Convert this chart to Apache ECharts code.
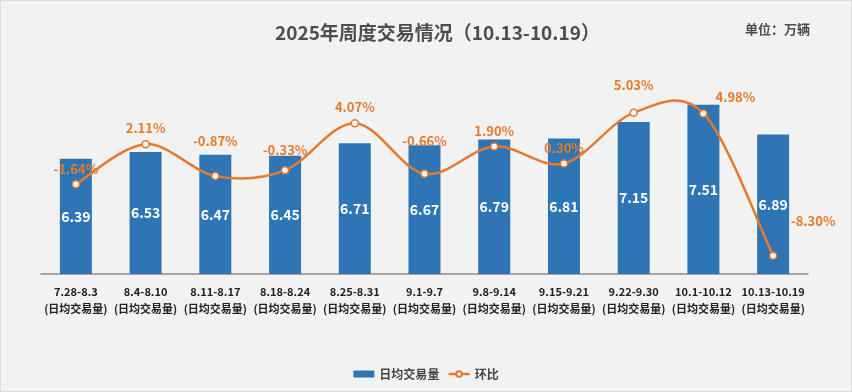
<!DOCTYPE html>
<html>
<head>
<meta charset="utf-8">
<script src="https://cdn.jsdelivr.net/npm/echarts@6/dist/echarts.min.js"></script>
<style>
html,body{margin:0;padding:0;background:#f2f2f2;}
#c{width:850px;height:390px;border:1px solid #dcdcdc;background:#f2f2f2;}
</style>
</head>
<body>
<div id="c"></div>
<script>
const categories = ['7.28-8.3','8.4-8.10','8.11-8.17','8.18-8.24','8.25-8.31','9.1-9.7','9.8-9.14','9.15-9.21','9.22-9.30','10.1-10.12','10.13-10.19'];
const dailyVolume = [6.39,6.53,6.47,6.45,6.71,6.67,6.79,6.81,7.15,7.51,6.89];
const momChange = [-1.64,2.11,-0.87,-0.33,4.07,-0.66,1.90,0.30,5.03,4.98,-8.30];
const subLabel = '(日均交易量)';

const FONT = '"Noto Sans CJK SC", "Noto Sans", sans-serif';
const ORANGE = '#e8792b';
const labelOffsets = {2:[0,-19],3:[0,-5],5:[0,-17],8:[0,-12],9:[32,-1],10:[40,-19]};

const lineData = momChange.map((v,i)=>{
  const o = {value:v};
  if (labelOffsets[i]) o.label = {offset: labelOffsets[i]};
  return o;
});

// Catmull-Rom style smooth curve through the points, positioned by the chart's own axes
function renderCurve(params, api){
  if (params.dataIndex !== 0) return null;
  const pts = momChange.map((v,i)=>api.coord([i, v]));
  const n = pts.length;
  let d = 'M' + pts[0][0] + ' ' + pts[0][1];
  for (let i=0;i<n-1;i++){
    const p0 = pts[Math.max(i-1,0)], p1 = pts[i], p2 = pts[i+1], p3 = pts[Math.min(i+2,n-1)];
    const c1x = p1[0] + (p2[0]-p0[0])/6, c1y = p1[1] + (p2[1]-p0[1])/6;
    const c2x = p2[0] - (p3[0]-p1[0])/6, c2y = p2[1] - (p3[1]-p1[1])/6;
    d += ' C' + c1x + ' ' + c1y + ' ' + c2x + ' ' + c2y + ' ' + p2[0] + ' ' + p2[1];
  }
  return {type:'path', shape:{pathData:d}, style:{fill:'none', stroke:ORANGE, lineWidth:2.5}, silent:true};
}

const chart = echarts.init(document.getElementById('c'));
chart.setOption({
  backgroundColor:'#f2f2f2',
  textStyle:{fontFamily:FONT},
  title:[
    {text:'2025年周度交易情况（10.13-10.19）',left:269,top:17,
     textStyle:{fontSize:19,fontWeight:'bold',color:'#4d4d4d',fontFamily:FONT}},
    {text:'单位：万辆',left:739,top:17,
     textStyle:{fontSize:13,fontWeight:'bold',color:'#4d4d4d',fontFamily:FONT}}
  ],
  legend:{
    bottom:6,left:'center',itemGap:8,itemWidth:21,itemHeight:7,
    textStyle:{fontSize:12,fontWeight:'bold',color:'#444',fontFamily:FONT},
    data:[
      {name:'日均交易量',icon:'rect'},
      {name:'环比',lineStyle:{color:ORANGE,width:2.5,opacity:1}}
    ]
  },
  grid:{left:40,right:43,top:80,bottom:117},
  xAxis:{
    type:'category',data:categories,
    axisTick:{show:false},
    axisLine:{onZero:false,lineStyle:{color:'#8c8c8c',width:1.5}},
    axisLabel:{
      interval:0,margin:9,color:'#222',fontSize:11,fontWeight:'bold',lineHeight:17,fontFamily:FONT,
      formatter:v=>v+'\n'+subLabel
    }
  },
  yAxis:[
    {type:'value',min:4,max:8,show:false,splitLine:{show:false}},
    {type:'value',min:-10,max:8,show:false,splitLine:{show:false}}
  ],
  series:[
    {name:'日均交易量',type:'bar',data:dailyVolume,barWidth:32,yAxisIndex:0,
     itemStyle:{color:'#2e75b6'},
     label:{show:true,position:'inside',color:'#fff',fontSize:14,fontWeight:'bold',fontFamily:FONT,
       formatter:p=>p.value.toFixed(2)}},
    {name:'环比曲线',type:'custom',yAxisIndex:1,z:3,
     data:momChange.map((v,i)=>[i,v]),encode:{x:0,y:1},
     renderItem:renderCurve},
    {name:'环比',type:'line',data:lineData,yAxisIndex:1,z:4,
     symbol:'circle',symbolSize:7,
     lineStyle:{color:ORANGE,width:2.5,opacity:0},
     itemStyle:{color:'#fff',borderColor:ORANGE,borderWidth:1.5},
     label:{show:true,position:'top',distance:5,color:ORANGE,fontSize:13,fontWeight:'bold',fontFamily:FONT,
       formatter:p=>p.value.toFixed(2)+'%'}}
  ]
});
</script>
</body>
</html>
